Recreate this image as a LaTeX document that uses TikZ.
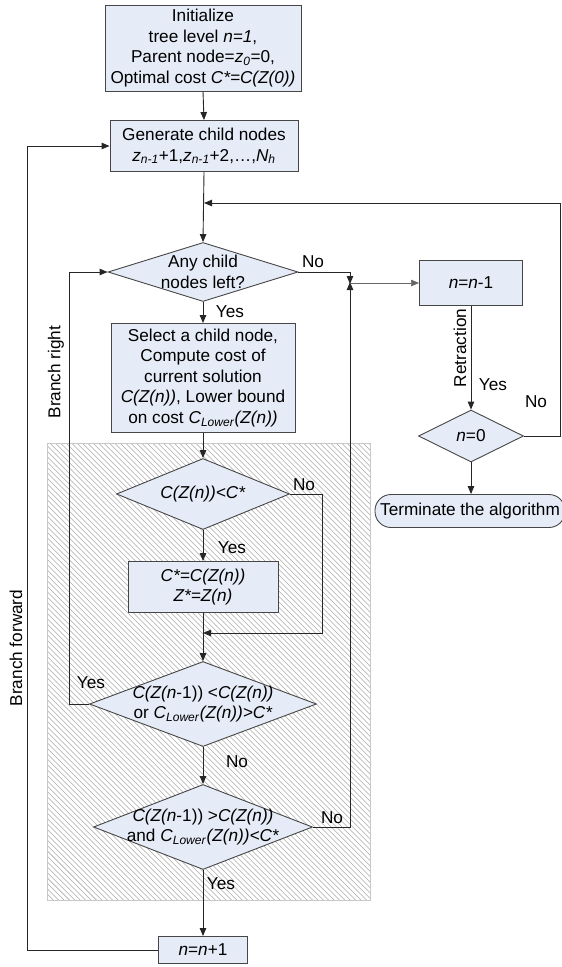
\documentclass[tikz,border=0pt]{standalone}
\usepackage{fontspec}
\setmainfont{Liberation Sans}
\usetikzlibrary{arrows.meta,shapes.geometric}
\definecolor{boxfill}{RGB}{230,236,247}
\definecolor{boxline}{RGB}{70,70,70}
\definecolor{hatchcol}{RGB}{170,170,170}
\definecolor{hatchframe}{RGB}{200,200,200}
\newcommand{\iti}[1]{\textit{#1}}
\newcommand{\sbi}[1]{\textsubscript{\textit{#1}}}
\tikzset{
  every node/.style={font=\fontsize{17.2}{20.5}\selectfont},
  procbox/.style={rectangle,draw=boxline,fill=boxfill,line width=0.9pt,inner sep=0pt,align=center},
  decbox/.style={diamond,draw=boxline,fill=boxfill,line width=0.9pt,inner sep=0pt},
  dectext/.style={align=center,inner sep=0pt},
  lbl/.style={inner sep=0pt},
  arr/.style={draw=black!85,line width=0.9pt,-{Triangle[length=8pt,width=6.5pt]}},
  thinarr/.style={draw=black!60,line width=0.6pt,-{Triangle[length=8pt,width=6.5pt]}},
}
\begin{document}
\begin{tikzpicture}[x=1pt,y=-1pt]
\useasboundingbox (0,0) rectangle (562,967);
% hatched area
\begin{scope}
  \clip (47,443) rectangle (370,900);
  \foreach \k in {-420,-414.6,...,375}{
    \draw[hatchcol,line width=0.55pt] (\k,443) -- ++(460,460);
  }
\end{scope}
\draw[hatchframe,line width=0.7pt] (47,443) rectangle (370,900);

% nodes
\node[procbox,minimum width=196pt,minimum height=86pt] (init) at (203,48)
  {Initialize\\ tree level \iti{n=1},\\ Parent node=\iti{z}\sbi{0}=0,\\ Optimal cost \iti{C*=C(Z(0))}};
\node[procbox,minimum width=188pt,minimum height=51pt] (gen) at (204,146)
  {Generate child nodes\\ \iti{z}\sbi{n-1}+1,\iti{z}\sbi{n-1}+2,…,\iti{N}\sbi{h}};
\node[decbox,minimum width=190pt,minimum height=59pt] (d1) at (203,272) {};
\node[dectext] (d1t) at (203,272) {Any child\\ nodes left?};
\node[procbox,minimum width=184pt,minimum height=109pt] (sel) at (203,378)
  {Select a child node,\\ Compute cost of\\ current solution\\ \iti{C(Z(n))}, Lower bound\\ on cost \iti{C}\sbi{Lower}\iti{(Z(n))}};
\node[decbox,minimum width=173pt,minimum height=71pt] (d2) at (203,494) {};
\node[dectext] (d2t) at (203,494) {\iti{C(Z(n))<C*}};
\node[procbox,minimum width=150pt,minimum height=51pt] (cb) at (203,587)
  {\iti{C*=C(Z(n))}\\ \iti{Z*=Z(n)}};
\node[decbox,minimum width=227pt,minimum height=85pt] (d3) at (203,704) {};
\node[dectext] (d3t) at (203,704) {\iti{C(Z(n}-1)) <\iti{C(Z(n))}\\ or \iti{C}\sbi{Lower}\iti{(Z(n))>C*}};
\node[decbox,minimum width=219pt,minimum height=85pt] (d4) at (203,827) {};
\node[dectext] (d4t) at (203,827) {\iti{C(Z(n}-1)) >\iti{C(Z(n))}\\ and \iti{C}\sbi{Lower}\iti{(Z(n))<C*}};
\node[procbox,minimum width=89pt,minimum height=27pt] (inc) at (203,950) {\iti{n}=\iti{n}+1};
\node[procbox,minimum width=103pt,minimum height=45pt] (dec) at (471,283) {\iti{n}=\iti{n}-1};
\node[decbox,minimum width=105pt,minimum height=52pt] (d0) at (471,436) {};
\node[dectext] (d0t) at (471,436) {\iti{n}=0};
\node[procbox,rounded corners=16pt,minimum width=190pt,minimum height=33pt] (term) at (470,511)
  {Terminate the algorithm};

% helper coordinates
\coordinate (J) at (350,283);
\coordinate (rtop) at (560,203);
\coordinate (c2) at (322,633);
\coordinate (bl) at (69,704);
\coordinate (bf) at (27,950);

% connectors
\draw[arr] (init.south) -- (gen.north);
\draw[arr] (gen.south) -- (d1.north);
\draw[arr] (d0.east) -| (rtop) -- (gen.south |- rtop);
\draw[arr] (d1.south) -- (sel.north);
\draw[arr] (d1.east) -| ([yshift=-1pt]J);
\draw[arr] (d4.east) -| ([yshift=1pt]J);
\draw[thinarr] (J) -- (dec.west);
\draw[arr] (sel.south) -- (d2.north);
\draw[arr] (d2.south) -- (cb.north);
\draw[arr] (d2.east) -| (c2) -- (cb.south |- c2);
\draw[arr] (cb.south) -- (d3.north);
\draw[arr] (d3.west) -- (bl) |- (d1.west);
\draw[arr] (d3.south) -- (d4.north);
\draw[arr] (d4.south) -- (inc.north);
\draw[arr] (inc.west) -- (bf) |- (gen.west);
\draw[arr] (dec.south) -- (d0.north);
\draw[arr] (d0.south) -- (term.north -| d0.south);

% labels
\node[lbl] (l1) at (313,262) {No};
\node[lbl] (l2) at (230,312) {Yes};
\node[lbl] (l3) at (304,485) {No};
\node[lbl] (l4) at (232,548) {Yes};
\node[lbl] (l5) at (91,683) {Yes};
\node[lbl] (l6) at (237,762) {No};
\node[lbl] (l7) at (332,818) {No};
\node[lbl] (l8) at (221,884) {Yes};
\node[lbl] (l9) at (493,385) {Yes};
\node[lbl] (l10) at (536,402) {No};
\node[lbl,rotate=90] (l11) at (460,348) {Retraction};
\node[lbl,rotate=90] (l12) at (56,372) {Branch right};
\node[lbl,rotate=90] (l13) at (16,648) {Branch forward};
\end{tikzpicture}
\end{document}
